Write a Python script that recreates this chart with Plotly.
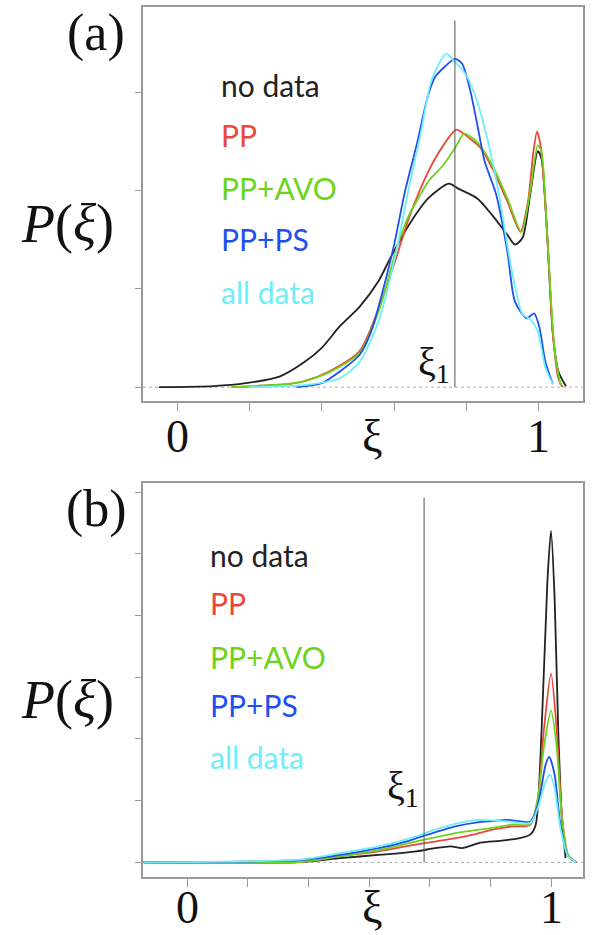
import plotly.graph_objects as go

# ---------------- data: panel (a) ----------------
a_black_x = [-0.05, 0.10, 0.19, 0.285, 0.35, 0.40, 0.45, 0.505, 0.557, 0.589, 0.641, 0.694, 0.751, 0.777, 0.83, 0.871, 0.913, 0.934, 0.955, 0.976, 0.997, 1.007, 1.023, 1.039, 1.054, 1.075]
a_black_y = [0.0, 0.01, 0.04, 0.11, 0.25, 0.40, 0.62, 0.82, 1.08, 1.31, 1.65, 1.92, 2.07, 2.02, 1.92, 1.75, 1.55, 1.45, 1.52, 1.96, 2.40, 2.33, 1.55, 0.53, 0.16, 0.01]

a_red_x = [0.15, 0.30, 0.35, 0.42, 0.505, 0.557, 0.60, 0.641, 0.694, 0.736, 0.772, 0.809, 0.84, 0.871, 0.913, 0.949, 0.97, 0.985, 0.995, 1.006, 1.023, 1.039, 1.054, 1.065]
a_red_y = [0.0, 0.03, 0.06, 0.16, 0.37, 0.80, 1.25, 1.72, 2.19, 2.46, 2.62, 2.53, 2.43, 2.23, 1.89, 1.58, 1.89, 2.40, 2.60, 2.43, 1.55, 0.53, 0.09, 0.0]

a_green_x = [0.15, 0.30, 0.35, 0.42, 0.505, 0.557, 0.61, 0.641, 0.662, 0.694, 0.736, 0.768, 0.794, 0.83, 0.871, 0.913, 0.952, 0.976, 0.997, 1.007, 1.023, 1.044, 1.06]
a_green_y = [0.0, 0.03, 0.06, 0.15, 0.35, 0.77, 1.45, 1.75, 1.89, 2.09, 2.26, 2.43, 2.58, 2.49, 2.26, 1.92, 1.58, 1.99, 2.46, 2.40, 1.55, 0.36, 0.02]

a_blue_x = [0.33, 0.40, 0.45, 0.505, 0.537, 0.568, 0.60, 0.63, 0.662, 0.694, 0.714, 0.74, 0.768, 0.788, 0.809, 0.83, 0.85, 0.882, 0.913, 0.934, 0.966, 0.987, 1.002, 1.018, 1.039]
a_blue_y = [0.0, 0.04, 0.16, 0.33, 0.57, 0.97, 1.45, 1.99, 2.46, 2.97, 3.16, 3.26, 3.34, 3.29, 3.04, 2.67, 2.30, 1.96, 1.38, 0.87, 0.70, 0.75, 0.60, 0.26, 0.03]

a_cyan_x = [0.20, 0.35, 0.45, 0.505, 0.557, 0.60, 0.641, 0.673, 0.704, 0.744, 0.768, 0.80, 0.83, 0.862, 0.893, 0.924, 0.955, 0.976, 0.997, 1.018, 1.039]
a_cyan_y = [0.0, 0.02, 0.09, 0.26, 0.67, 1.28, 2.03, 2.57, 3.13, 3.39, 3.31, 3.17, 2.90, 2.46, 1.89, 1.21, 0.74, 0.69, 0.57, 0.20, 0.03]

# ---------------- data: panel (b) ----------------
b_black_x = [-0.12, 0.318, 0.42, 0.526, 0.63, 0.68, 0.724, 0.755, 0.807, 0.86, 0.911, 0.943, 0.958, 0.974, 0.99, 1.0, 1.01, 1.02, 1.03, 1.04]
b_black_y = [0.0, 0.01, 0.07, 0.12, 0.18, 0.23, 0.26, 0.23, 0.32, 0.35, 0.39, 0.45, 0.61, 2.12, 4.54, 5.37, 4.27, 2.12, 0.72, 0.07]

b_red_x = [-0.12, 0.318, 0.42, 0.526, 0.63, 0.734, 0.786, 0.839, 0.89, 0.943, 0.964, 0.98, 1.0, 1.016, 1.03, 1.047, 1.07]
b_red_y = [0.0, 0.01, 0.10, 0.18, 0.29, 0.39, 0.45, 0.53, 0.58, 0.61, 1.04, 2.12, 3.06, 2.12, 0.77, 0.12, 0.0]

b_green_x = [-0.12, 0.318, 0.42, 0.526, 0.63, 0.734, 0.839, 0.89, 0.943, 0.964, 0.98, 1.0, 1.016, 1.03, 1.047, 1.07]
b_green_y = [0.0, 0.01, 0.10, 0.20, 0.34, 0.47, 0.56, 0.61, 0.62, 1.04, 1.85, 2.46, 1.85, 0.72, 0.12, 0.0]

b_blue_x = [-0.12, 0.318, 0.42, 0.526, 0.609, 0.661, 0.734, 0.797, 0.839, 0.88, 0.922, 0.943, 0.964, 0.985, 0.995, 1.01, 1.026, 1.047, 1.07]
b_blue_y = [0.0, 0.04, 0.12, 0.23, 0.35, 0.45, 0.58, 0.65, 0.67, 0.69, 0.66, 0.66, 0.93, 1.58, 1.71, 1.42, 0.61, 0.10, 0.0]

b_cyan_x = [-0.12, 0.318, 0.42, 0.526, 0.63, 0.68, 0.734, 0.797, 0.839, 0.89, 0.943, 0.964, 0.985, 0.997, 1.01, 1.026, 1.047, 1.07]
b_cyan_y = [0.0, 0.05, 0.15, 0.26, 0.42, 0.53, 0.62, 0.69, 0.68, 0.66, 0.64, 0.88, 1.31, 1.42, 1.20, 0.55, 0.10, 0.0]

series_names = ["no data", "PP", "PP+AVO", "PP+PS", "all data"]
series_colors = ["#222222", "#e8493a", "#6cd41c", "#1e50f0", "#70eef8"]

xi1_a = 0.768
xi1_b = 0.651
a_xticks = [0, 0.2, 0.4, 0.6, 0.8, 1.0]
b_xticks = [0, 1/6, 2/6, 3/6, 4/6, 5/6, 1.0]
a_yticks = [0, 1, 2, 3]
b_yticks = [0, 1, 2, 3, 4, 5, 6]
tick_text_pos_a = [0, 0.54, 1]
tick_text_pos_b = [0, 0.51, 1]
tick_texts = ["0", "ξ", "1"]

fig = go.Figure()

panel_a = [(a_black_x, a_black_y), (a_red_x, a_red_y), (a_green_x, a_green_y), (a_blue_x, a_blue_y), (a_cyan_x, a_cyan_y)]
panel_b = [(b_black_x, b_black_y), (b_red_x, b_red_y), (b_green_x, b_green_y), (b_blue_x, b_blue_y), (b_cyan_x, b_cyan_y)]

XA = [-0.094, 1.122]
YA = [-0.142, 3.868]
XB = [-0.122, 1.088]
YB = [-0.237, 6.15]

# baselines
fig.add_trace(go.Scatter(x=XA, y=[0, 0], mode="lines", line=dict(color="#aaaaaa", width=1, dash="dot"),
                         xaxis="x", yaxis="y", showlegend=False, hoverinfo="skip"))
fig.add_trace(go.Scatter(x=XB, y=[0, 0], mode="lines", line=dict(color="#aaaaaa", width=1, dash="dot"),
                         xaxis="x2", yaxis="y2", showlegend=False, hoverinfo="skip"))

for (xs, ys), c, n in zip(panel_a, series_colors, series_names):
    fig.add_trace(go.Scatter(x=xs, y=ys, mode="lines", name=n,
                             line=dict(color=c, width=1.8, shape="spline", smoothing=0.7),
                             xaxis="x", yaxis="y", showlegend=False))
for (xs, ys), c, n in zip(panel_b, series_colors, series_names):
    fig.add_trace(go.Scatter(x=xs, y=ys, mode="lines", name=n,
                             line=dict(color=c, width=1.8, shape="spline", smoothing=0.7),
                             xaxis="x2", yaxis="y2", showlegend=False))

# xi1 lines
fig.add_trace(go.Scatter(x=[xi1_a, xi1_a], y=[0, 3.73], mode="lines", line=dict(color="#555555", width=1),
                         xaxis="x", yaxis="y", showlegend=False, hoverinfo="skip"))
fig.add_trace(go.Scatter(x=[xi1_b, xi1_b], y=[0, 5.91], mode="lines", line=dict(color="#555555", width=1),
                         xaxis="x2", yaxis="y2", showlegend=False, hoverinfo="skip"))

frame = dict(showline=True, linecolor="#999999", linewidth=1.5, mirror=True, showgrid=False, zeroline=False,
             ticks="outside", tickcolor="#999999", showticklabels=False)

fig.update_layout(
    width=593, height=935,
    margin=dict(l=143, r=10, t=5, b=58),
    plot_bgcolor="white", paper_bgcolor="white",
    xaxis=dict(domain=[0, 1], range=XA, tickvals=a_xticks, ticklen=8, anchor="y", **frame),
    yaxis=dict(domain=[0.547, 1], range=YA, tickvals=a_yticks, ticklen=6, anchor="x", **frame),
    xaxis2=dict(domain=[0, 1], range=XB, tickvals=b_xticks, ticklen=8, anchor="y2", **frame),
    yaxis2=dict(domain=[0, 0.453], range=YB, tickvals=b_yticks, ticklen=6, anchor="x2", **frame),
)

serif = "Liberation Serif"
H_plot = 935 - 5 - 58

def px_to_paper_y(py):
    return (935 - 58 - py) / H_plot

def px_to_paper_x(px):
    return (px - 143) / (593 - 143 - 10)

# series labels (pixel centres)
label_py_a = [83, 133, 186, 238, 291]
label_py_b = [554, 602, 656, 705, 757]
for n, c, pa, pb in zip(series_names, series_colors, label_py_a, label_py_b):
    fig.add_annotation(text=n, x=px_to_paper_x(219), y=px_to_paper_y(pa), xref="paper", yref="paper",
                       xanchor="left", yanchor="middle", showarrow=False,
                       font=dict(family="Lato", size=30, color=c))
    fig.add_annotation(text=n, x=px_to_paper_x(208), y=px_to_paper_y(pb), xref="paper", yref="paper",
                       xanchor="left", yanchor="middle", showarrow=False,
                       font=dict(family="Lato", size=30, color=c))

# tick labels
for t, xa, xb in zip(tick_texts, tick_text_pos_a, tick_text_pos_b):
    fig.add_annotation(text=t, x=xa, y=px_to_paper_y(435), xref="x", yref="paper", yanchor="middle",
                       showarrow=False, font=dict(family=serif, size=46, color="#111111"))
    fig.add_annotation(text=t, x=xb, y=px_to_paper_y(908), xref="x2", yref="paper", yanchor="middle",
                       showarrow=False, font=dict(family=serif, size=46, color="#111111"))

extra = [
    dict(text="(a)", x=px_to_paper_x(96), y=px_to_paper_y(31), font=dict(family=serif, size=52, color="#111111")),
    dict(text="(b)", x=px_to_paper_x(96), y=px_to_paper_y(508), font=dict(family=serif, size=52, color="#111111")),
    dict(text="<i>P</i>(<i>ξ</i>)", x=px_to_paper_x(67), y=px_to_paper_y(222), font=dict(family=serif, size=54, color="#111111")),
    dict(text="<i>P</i>(<i>ξ</i>)", x=px_to_paper_x(67), y=px_to_paper_y(700), font=dict(family=serif, size=54, color="#111111")),
    dict(text="ξ<sub>1</sub>", x=px_to_paper_x(452), y=px_to_paper_y(363), xanchor="right", font=dict(family=serif, size=40, color="#111111")),
    dict(text="ξ<sub>1</sub>", x=px_to_paper_x(421), y=px_to_paper_y(788), xanchor="right", font=dict(family=serif, size=40, color="#111111")),
]
for e in extra:
    e.update(xref="paper", yref="paper", showarrow=False, yanchor="middle")
    if "xanchor" not in e:
        e["xanchor"] = "center"
    fig.add_annotation(**e)

fig.write_html("out.html")
